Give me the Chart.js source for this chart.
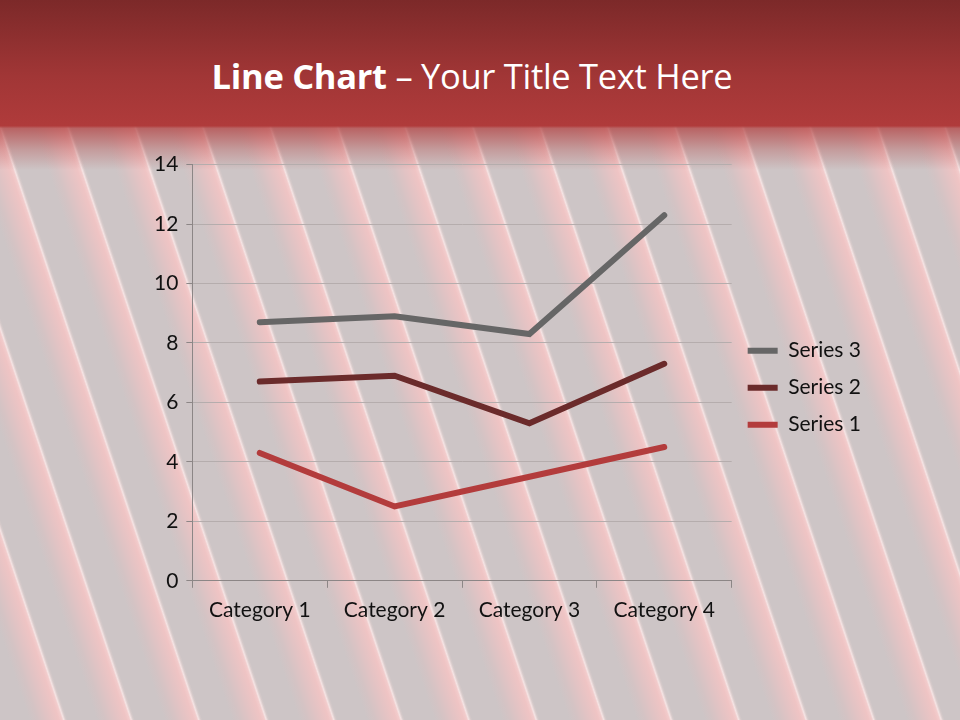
<!DOCTYPE html>
<html>
<head>
<meta charset="utf-8">
<script src="https://cdn.jsdelivr.net/npm/chart.js@4"></script>
<style>
  html, body { margin: 0; padding: 0; }
  body {
    width: 960px; height: 720px; overflow: hidden; position: relative;
    background-color: #cdc5c6;
    background-image: repeating-linear-gradient(71.5deg,
      #cdc5c6 0px, #cdc5c6 28px, #d4c3c4 36px, #e2c3c4 46px, #efc4c4 56px,
      #f2cccc 59px, #f5e4e4 60.5px, #d6caca 62.5px, #cdc5c6 64px);
    font-family: Lato, "Open Sans", sans-serif;
  }
  #header {
    position: absolute; left: 0; top: 0; width: 960px; height: 170px;
    background: linear-gradient(to bottom, #7c2929 0%, #a13636 45%, #b03b3b 74%,
      rgba(176,59,59,0.7) 75.5%, rgba(176,59,59,0.3) 88%, rgba(176,59,59,0) 100%);
  }
  #title {
    position: absolute; left: 0; top: 52px; width: 944px; text-align: center;
    color: #fff; font-size: 34.5px; font-family: "Open Sans", Lato, sans-serif;
    letter-spacing: -0.3px;
  }
  #title b { font-weight: 700; }
  #box { position: absolute; left: 146px; top: 144px; width: 735px; height: 489px; }
</style>
</head>
<body>
<div id="header"></div>
<div id="title"><b>Line Chart</b> – Your Title Text Here</div>
<div id="box"><canvas id="grafico"></canvas></div>
<script>
const categorias = ['Category 1', 'Category 2', 'Category 3', 'Category 4'];
// values of each series (the chart stacks them)
const serie1 = [4.3, 2.5, 3.5, 4.5];
const serie2 = [2.4, 4.4, 1.8, 2.8];
const serie3 = [2, 2, 3, 5];

const fuente = { family: 'Lato, "Open Sans", sans-serif', size: 21 };

const ctx = document.getElementById('grafico').getContext('2d');
new Chart(ctx, {
    type: 'line',
    data: {
        labels: categorias,
        datasets: [
            { label: 'Series 1', data: serie1, borderColor: '#b33c3c', backgroundColor: '#b33c3c', borderWidth: 6 },
            { label: 'Series 2', data: serie2, borderColor: '#6b2b2b', backgroundColor: '#6b2b2b', borderWidth: 6 },
            { label: 'Series 3', data: serie3, borderColor: '#666666', backgroundColor: '#666666', borderWidth: 6 }
        ]
    },
    options: {
        responsive: true,
        maintainAspectRatio: false,
        animation: false,
        layout: { padding: { left: 0, right: 10, top: 10, bottom: 0 } },
        elements: {
            line: { tension: 0, fill: false, borderCapStyle: 'round', borderJoinStyle: 'miter' },
            point: { radius: 0, hoverRadius: 0 }
        },
        scales: {
            x: {
                offset: true,
                grid: { offset: true, drawOnChartArea: false, drawTicks: true, tickLength: 7, tickColor: '#8c8686' },
                border: { color: '#8c8686', width: 1 },
                ticks: { color: '#111', font: fuente, padding: 10 }
            },
            y: {
                stacked: true,
                min: 0,
                max: 14,
                ticks: { stepSize: 2, color: '#111', font: fuente, padding: 8 },
                grid: { color: '#b5adad', tickColor: '#8c8686', tickLength: 6 },
                border: { color: '#8c8686', width: 1 }
            }
        },
        plugins: {
            legend: {
                position: 'right',
                reverse: true,
                fullSize: false,
                title: { display: true, text: ' ', font: { size: 10 }, padding: 9 },
                labels: {
                    usePointStyle: true,
                    pointStyle: 'line',
                    pointStyleWidth: 30,
                    color: '#111',
                    font: fuente,
                    padding: 16
                }
            },
            tooltip: { enabled: false }
        }
    }
});
</script>
</body>
</html>
